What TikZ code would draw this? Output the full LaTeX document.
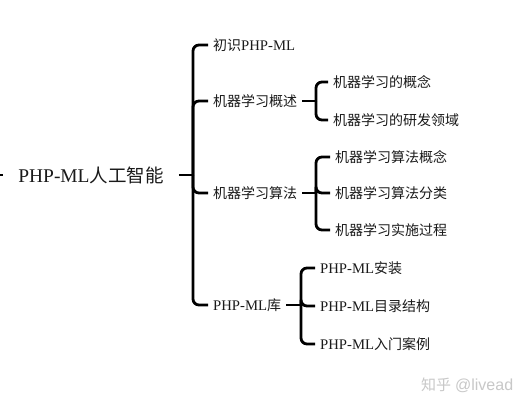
\documentclass[tikz,border=0pt]{standalone}
\usepackage{fontspec}
\setmainfont{Liberation Serif}[Scale=1.05]
\newfontfamily\cjk{Noto Sans CJK SC}
\newfontfamily\wmsans{Liberation Sans}
\definecolor{txt}{HTML}{1A1A1A}
\definecolor{wm}{HTML}{C8C8C8}
\begin{document}
\begin{tikzpicture}[x=1pt,y=-1pt,
  conn/.style={line width=2.8pt,black,rounded corners=6pt},
  item/.style={anchor=west,inner xsep=5pt,inner ysep=2pt,text=txt,font=\fontsize{14}{16}\selectfont},
  rootnode/.style={inner xsep=15pt,text=txt,font=\fontsize{18.5}{20}\selectfont}]
\useasboundingbox (0,0) rectangle (530,410);
\fill[white] (0,0) rectangle (530,410);
% root
\node[rootnode] (root) at (91,175) {PHP-ML{\cjk 人工智能}};
\coordinate (stub) at (0,175);
\coordinate (M) at (193,175);
% level 1
\node[item] (c1) at (208,45) {{\cjk 初识}PHP-ML};
\node[item] (c2) at (208,101) {\cjk 机器学习概述};
\node[item] (c3) at (208,193) {\cjk 机器学习算法};
\node[item] (c4) at (208,305) {PHP-ML{\cjk 库}};
% level 2
\coordinate (J2) at (316,101);
\node[item] (c21) at (328,82) {\cjk 机器学习的概念};
\node[item] (c22) at (328,120) {\cjk 机器学习的研发领域};
\coordinate (J3) at (316,193);
\node[item] (c31) at (330,157) {\cjk 机器学习算法概念};
\node[item] (c32) at (330,193) {\cjk 机器学习算法分类};
\node[item] (c33) at (330,230) {\cjk 机器学习实施过程};
\coordinate (J4) at (301,305);
\node[item] (c41) at (315,268) {PHP-ML{\cjk 安装}};
\node[item] (c42) at (315,306) {PHP-ML{\cjk 目录结构}};
\node[item] (c43) at (315,344) {PHP-ML{\cjk 入门案例}};
% connectors
\draw[conn] (stub) -- (root.west);
\draw[conn] (root.east) -- (M);
\foreach \c in {c1,c2,c3,c4} \draw[conn] (M) |- (\c.west);
\draw[conn] (c2.east) -- (J2);
\foreach \c in {c21,c22} \draw[conn] (J2) |- (\c.west);
\draw[conn] (c3.east) -- (J3);
\foreach \c in {c31,c32,c33} \draw[conn] (J3) |- (\c.west);
\draw[conn] (c4.east) -- (J4);
\foreach \c in {c41,c42,c43} \draw[conn] (J4) |- (\c.west);
% watermark
\node[anchor=west,inner sep=0pt,text=wm,font=\fontsize{15}{17}\selectfont] (wmk) at (421,385) {{\cjk 知乎}\ {\wmsans\fontsize{16}{17}\selectfont @livead}};
\end{tikzpicture}
\end{document}
